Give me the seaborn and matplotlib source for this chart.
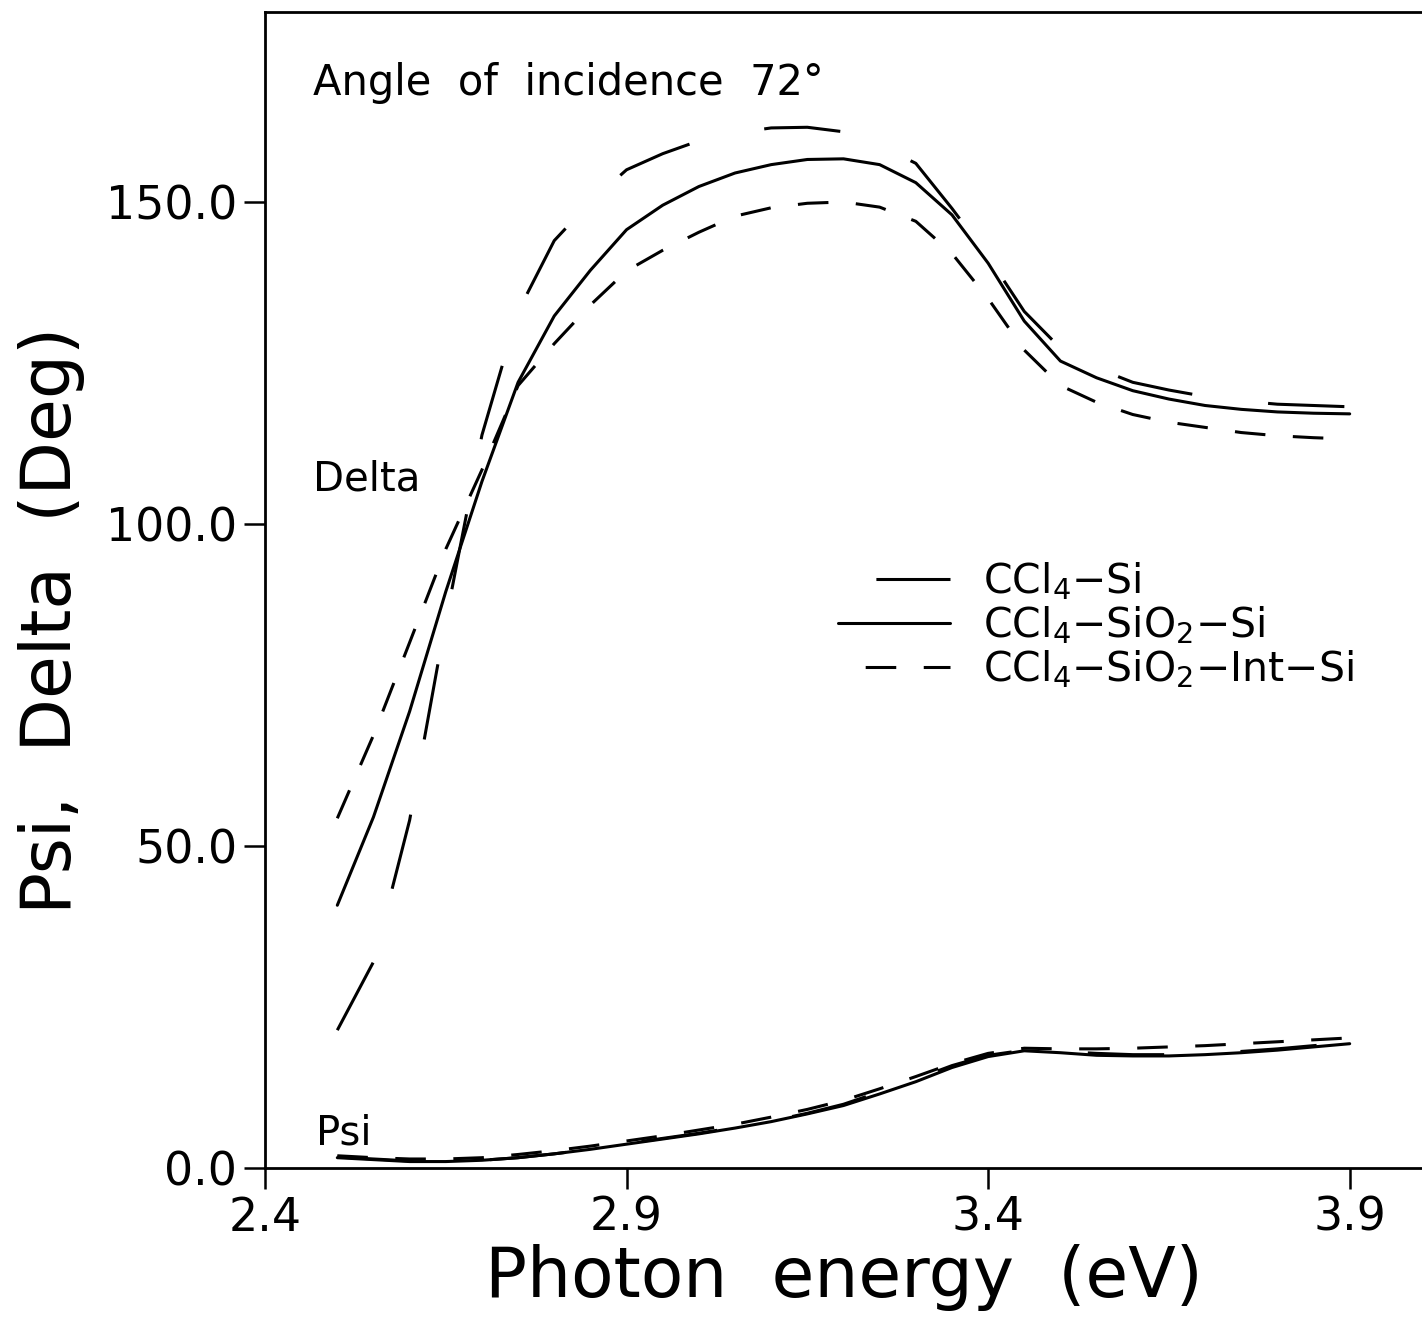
import pandas as pd
import seaborn as sns
import matplotlib.pyplot as plt
from matplotlib.lines import Line2D

# Photon energy grid (eV)
energy = [2.50, 2.55, 2.60, 2.65, 2.70, 2.75, 2.80, 2.85, 2.90, 2.95,
          3.00, 3.05, 3.10, 3.15, 3.20, 3.25, 3.30, 3.35, 3.40, 3.45,
          3.50, 3.55, 3.60, 3.65, 3.70, 3.75, 3.80, 3.85, 3.90]

# Delta (deg)
delta_si = [21.4, 32.0, 54.0, 85.0, 113.8, 133.0, 144.0, 150.0, 155.0, 157.5,
            159.5, 160.7, 161.5, 161.6, 160.9, 158.8, 156.0, 149.0, 141.5, 133.0,
            127.3, 124.2, 122.0, 120.8, 119.8, 119.1, 118.6, 118.4, 118.2]
delta_sio2 = [40.8, 54.5, 70.9, 89.5, 106.6, 122.0, 132.3, 139.4, 145.7, 149.5,
              152.4, 154.5, 155.8, 156.6, 156.7, 155.8, 153.0, 148.0, 140.5, 131.5,
              125.3, 122.7, 120.7, 119.4, 118.4, 117.8, 117.4, 117.2, 117.1]
delta_int = [54.3, 67.2, 81.6, 96.1, 108.4, 121.5, 128.0, 134.0, 139.3, 142.5,
             145.3, 147.8, 149.1, 149.8, 150.0, 149.2, 147.0, 142.0, 135.0, 127.0,
             121.5, 118.9, 117.0, 115.8, 115.0, 114.2, 113.7, 113.4, 113.2]

# Psi (deg)
psi_si = [1.7, 1.4, 1.1, 1.0, 1.2, 1.6, 2.2, 2.9, 3.8, 4.6,
          5.4, 6.3, 7.3, 8.5, 9.9, 11.8, 13.8, 15.9, 17.5, 18.3,
          18.1, 17.8, 17.6, 17.6, 17.8, 18.1, 18.5, 19.0, 19.4]
psi_sio2 = [1.6, 1.3, 1.0, 1.0, 1.2, 1.6, 2.2, 2.9, 3.7, 4.5,
            5.3, 6.2, 7.2, 8.4, 9.7, 11.5, 13.4, 15.6, 17.3, 18.2,
            17.9, 17.5, 17.4, 17.4, 17.6, 17.9, 18.3, 18.8, 19.3]
psi_int = [1.9, 1.6, 1.4, 1.4, 1.6, 2.1, 2.7, 3.4, 4.2, 5.0,
           5.9, 6.8, 7.9, 9.1, 10.5, 12.3, 14.2, 16.2, 17.8, 18.6,
           18.5, 18.5, 18.6, 18.8, 19.0, 19.3, 19.6, 19.9, 20.2]

structures = ['CCl$_4$\u2212Si', 'CCl$_4$\u2212SiO$_2$\u2212Si', 'CCl$_4$\u2212SiO$_2$\u2212Int\u2212Si']

rows = []
for name, d, p in zip(structures, [delta_si, delta_sio2, delta_int], [psi_si, psi_sio2, psi_int]):
    for e, dv, pv in zip(energy, d, p):
        rows.append({'energy': e, 'value': dv, 'structure': name, 'quantity': 'Delta'})
        rows.append({'energy': e, 'value': pv, 'structure': name, 'quantity': 'Psi'})
df = pd.DataFrame(rows)

sns.set_style("ticks")
plt.rcParams['font.family'] = ['DejaVu Sans']
plt.rcParams['text.color'] = 'black'
plt.rcParams['axes.labelcolor'] = 'black'

lw = 2.2
dash_styles = {structures[0]: (25, 25), structures[1]: '', structures[2]: (10, 9)}

fig = plt.figure(figsize=(14.22, 13.2), dpi=100)
ax = fig.add_axes([265 / 1422, 152 / 1320, 1157 / 1422, 1156 / 1320])

sns.lineplot(data=df, x='energy', y='value', style='structure', units='quantity',
             estimator=None, dashes=dash_styles, color='black', linewidth=lw,
             legend=False, sort=False, ax=ax)

ax.set_xlim(2.4, 4.0)
ax.set_ylim(0, 179.5)
ax.set_xticks([2.4, 2.9, 3.4, 3.9])
ax.set_yticks([0, 50, 100, 150])
ax.set_yticklabels(['0.0', '50.0', '100.0', '150.0'])
ax.set_xticklabels(['2.4', '2.9', '3.4', '3.9'])
ax.tick_params(direction='out', length=15, width=1.8, labelsize=33, pad=5, colors='black')

for s in ['left', 'top', 'bottom']:
    ax.spines[s].set_linewidth(2.0)
    ax.spines[s].set_color('black')
ax.spines['right'].set_visible(False)

ax.set_xlabel('Photon  energy  (eV)', fontsize=50, labelpad=2)
ax.set_ylabel('Psi,  Delta  (Deg)', fontsize=50)
ax.yaxis.set_label_coords(-0.156, 0.474)

ax.text(0.0415, 0.928, 'Angle  of  incidence  72°', transform=ax.transAxes,
        fontsize=30, va='baseline')
ax.text(0.0415, 0.5865, 'Delta', transform=ax.transAxes, fontsize=29, va='baseline')
ax.text(0.044, 0.0199, 'Psi', transform=ax.transAxes, fontsize=29, va='baseline')

# legend handles (dash offsets chosen so the handles look like the original key)
handles = [
    Line2D([], [], color='black', linewidth=lw, linestyle=(37.6, (25, 25))),
    Line2D([], [], color='black', linewidth=lw, linestyle='-'),
    Line2D([], [], color='black', linewidth=lw, linestyle=(10.1, (10, 9))),
]
ax.legend(handles, structures, loc='upper left', bbox_to_anchor=(0.495, 0.525),
          frameon=False, fontsize=29.5, handlelength=2.75, handletextpad=0.8,
          labelspacing=0.05, borderpad=0, borderaxespad=0)

fig.savefig('out.png', dpi=100)
